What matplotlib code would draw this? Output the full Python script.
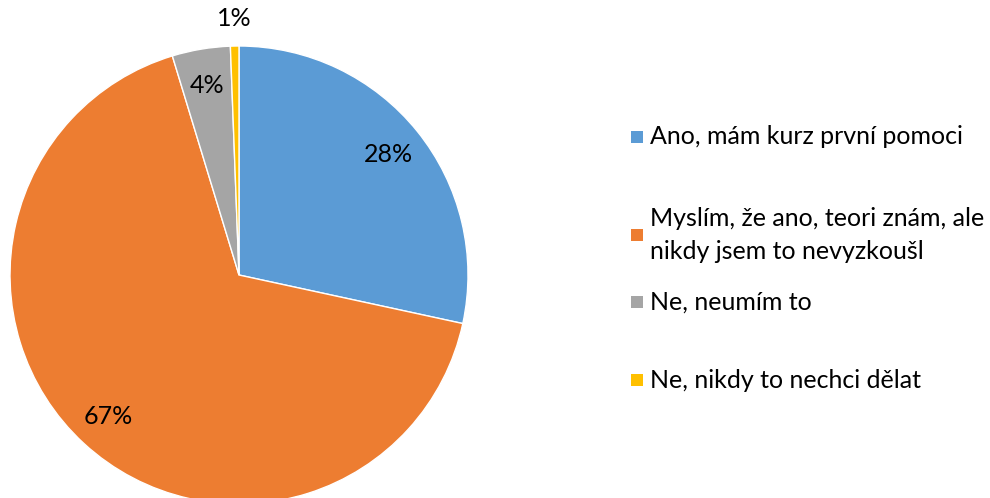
import numpy as np
import matplotlib.pyplot as plt
from matplotlib.patches import Rectangle

plt.rcParams['font.family'] = ['Lato', 'DejaVu Sans']

# data
kategorie = ['Ano, mám kurz první pomoci',
             'Myslím, že ano, teori znám, ale\nnikdy jsem to nevyzkoušl',
             'Ne, neumím to',
             'Ne, nikdy to nechci dělat']
hodnoty = [28.4, 66.9, 4.1, 0.6]
barvy = ['#5B9BD5', '#ED7D31', '#A5A5A5', '#FFC000']

fig = plt.figure(figsize=(9.9, 4.98), dpi=100)
ax = fig.add_axes([10 / 990, -6 / 498, 458 / 990, 458 / 498])

wedges, texty, pcts = ax.pie(hodnoty, colors=barvy, startangle=90, counterclock=False,
                             autopct='%1.0f%%', pctdistance=0.84,
                             wedgeprops=dict(edgecolor='white', linewidth=1),
                             textprops=dict(fontsize=18, color='black'))

# maly dilek - popisek ven
w = wedges[3]
uhel = np.deg2rad((w.theta1 + w.theta2) / 2)
pcts[3].set_position((1.12 * np.cos(uhel), 1.12 * np.sin(uhel)))
pcts[3].set_clip_on(False)

ax.set_xlim(-1, 1)
ax.set_ylim(-1, 1)
ax.set_aspect('equal')
ax.axis('off')

# legenda
legenda_y = [137, 235, 302, 380]
for kat, barva, y in zip(kategorie, barvy, legenda_y):
    fy = 1 - y / 498
    fig.patches.append(Rectangle((631 / 990, fy - 6 / 498), 12 / 990, 12 / 498,
                                 transform=fig.transFigure, facecolor=barva, edgecolor='none'))
    fig.text(650 / 990, fy, kat, fontsize=18, va='center', ha='left', linespacing=1.5)

plt.savefig('out.png', dpi=100)
